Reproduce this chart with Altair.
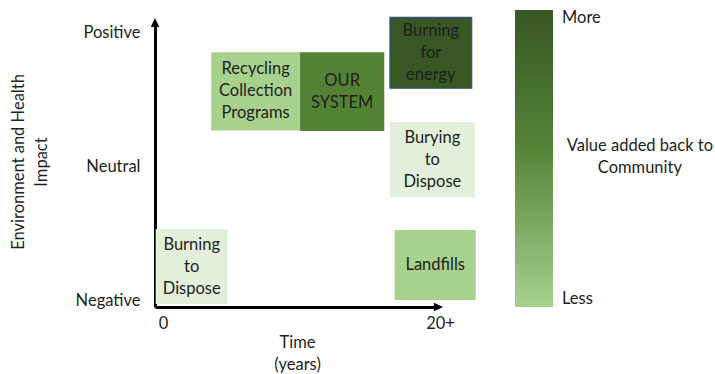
import altair as alt
import pandas as pd

FONT = "Lato"
FS = 16.5
TEXT = "#1e1e1e"

# ---- data -------------------------------------------------------------
# x = time (years), y = environment & health impact (0 Negative, 1 Neutral, 2 Positive)
impact_levels = ["Negative", "Neutral", "Positive"]
time_ticks = [0, 20]
time_tick_labels = ["0", "20+"]

box_labels = ["Burning\nto\nDispose", "Recycling\nCollection\nPrograms", "OUR\nSYSTEM",
              "Burning\nfor\nenergy", "Burying\nto\nDispose", "Landfills"]
box_time_start = [0.05, 4.06, 10.47, 16.96, 16.96, 17.30]
box_time_end = [5.25, 10.47, 16.55, 22.86, 23.08, 23.15]
box_impact_low = [0.022, 1.32, 1.315, 1.635, 0.82, 0.052]
box_impact_high = [0.583, 1.904, 1.904, 2.165, 1.383, 0.575]
box_fill = ["#E2EFDA", "#A9D18E", "#548235", "#385723", "#E2EFDA", "#A9D18E"]
box_stroke = ["transparent", "transparent", "transparent", "#2F528F", "transparent", "transparent"]

arrow_time = [0, 20.79]
arrow_impact = [2.16, 0]
arrow_angle = [0, 90]

legend_values = [0, 1]
legend_labels = ["Less", "More"]
legend_title = "Value added back to\nCommunity"
legend_title_time = [35.0]
legend_title_impact = [1.2055]

# ---- layout constants ------------------------------------------------
W, H = 284, 285
X_DOMAIN = [0, 20.5]
Y_DOMAIN = [0, 2.13]
LINE_H = 22
line_h_units = LINE_H * (Y_DOMAIN[1] - Y_DOMAIN[0]) / H

# ---- tables -----------------------------------------------------------
boxes = pd.DataFrame({
    "label": box_labels, "start": box_time_start, "end": box_time_end,
    "low": box_impact_low, "high": box_impact_high,
    "fill": box_fill, "stroke": box_stroke,
})
n_lines = boxes["label"].str.count("\n") + 1
boxes["tx"] = (boxes["start"] + boxes["end"]) / 2
# first line sits at y; shift up so the block is centred in its box
boxes["ty"] = (boxes["low"] + boxes["high"]) / 2 + (n_lines - 1) / 2 * line_h_units

arrows = pd.DataFrame({"t": arrow_time, "i": arrow_impact, "a": arrow_angle})
legend_df = pd.DataFrame({"v": legend_values, "t": [0, 0], "i": [0, 0]})
ltitle = pd.DataFrame({"t": legend_title_time, "i": legend_title_impact, "txt": [legend_title]})

x_scale = alt.Scale(domain=X_DOMAIN, nice=False, zero=False)
y_scale = alt.Scale(domain=Y_DOMAIN, nice=False, zero=False)

x_label_expr = "datum.value == 0 ? '%s' : '%s'" % tuple(time_tick_labels)
y_label_expr = "[" + ",".join("'%s'" % s for s in impact_levels) + "][datum.value]"

x_axis = alt.Axis(
    values=time_ticks, labelExpr=x_label_expr, title=["Time", "(years)"],
    grid=False, ticks=False, domainColor="black", domainWidth=3,
    labelPadding=8, labelOffset=8, labelFlush=False, labelOverlap=False,
    labelFontSize=FS, labelFont=FONT, labelColor=TEXT, labelAngle=0,
    titleX=142, titleY=35, titleBaseline="middle", titleAlign="center",
    titleFontWeight="normal", titleFontSize=FS, titleFont=FONT, titleColor=TEXT,
    titleLineHeight=22,
)
y_axis = alt.Axis(
    values=[0, 1, 2], labelExpr=y_label_expr,
    title=["Environment and Health", "Impact"],
    grid=False, ticks=False, domainColor="black", domainWidth=3,
    labelPadding=15, labelOffset=-6.5, labelFlush=False, labelOverlap=False,
    labelFontSize=FS, labelFont=FONT, labelColor=TEXT,
    titleAngle=-90, titleX=-137, titleY=139.5, titleBaseline="middle", titleAlign="center",
    titleFontWeight="normal", titleFontSize=FS, titleFont=FONT, titleColor=TEXT,
    titleLineHeight=23,
)

rects = alt.Chart(boxes).mark_rect(strokeWidth=1.2).encode(
    x=alt.X("start:Q", scale=x_scale, axis=x_axis),
    x2="end:Q",
    y=alt.Y("low:Q", scale=y_scale, axis=y_axis),
    y2="high:Q",
    fill=alt.Fill("fill:N", scale=None),
    stroke=alt.Stroke("stroke:N", scale=None),
)

texts = alt.Chart(boxes).mark_text(
    font=FONT, fontSize=FS, color=TEXT, lineBreak="\n", baseline="middle",
    align="center", lineHeight=LINE_H,
).encode(x="tx:Q", y="ty:Q", text="label:N")

arrow_marks = alt.Chart(arrows).mark_point(
    shape="M0,0 L0.65,1.4 L-0.65,1.4 Z", filled=True, color="black", opacity=1, size=170,
).encode(x="t:Q", y="i:Q", angle=alt.Angle("a:Q", scale=None))

legend_label_expr = "datum.value == 0 ? '%s' : '%s'" % tuple(legend_labels)
legend_layer = alt.Chart(legend_df).mark_point(size=0, filled=True, opacity=1).encode(
    x="t:Q", y="i:Q",
    color=alt.Color(
        "v:Q",
        scale=alt.Scale(domain=[0, 0.55, 1], range=["#A9D18E", "#548235", "#385723"]),
        legend=alt.Legend(
            orient="none", legendX=360, legendY=-12, direction="vertical",
            gradientLength=297, gradientThickness=38, gradientStrokeWidth=0,
            gradientOpacity=1,
            title=None, values=legend_values, labelExpr=legend_label_expr,
            labelFontSize=FS, labelFont=FONT, labelColor=TEXT, labelOffset=9,
            padding=0, labelOverlap=False,
        ),
    ),
)

title_text = alt.Chart(ltitle).mark_text(
    font=FONT, fontSize=FS, color=TEXT, lineBreak="\n", baseline="middle",
    align="center", lineHeight=LINE_H,
).encode(x="t:Q", y="i:Q", text="txt:N")

chart = alt.layer(rects, texts, arrow_marks, legend_layer, title_text).properties(
    width=W, height=H,
    padding={"left": 155, "top": 22, "right": 715 - 155 - W, "bottom": 374 - 22 - H},
    autosize="none", background="white",
).configure_view(stroke=None)

chart.save("out.html", embed_options={"renderer": "svg", "actions": False})
